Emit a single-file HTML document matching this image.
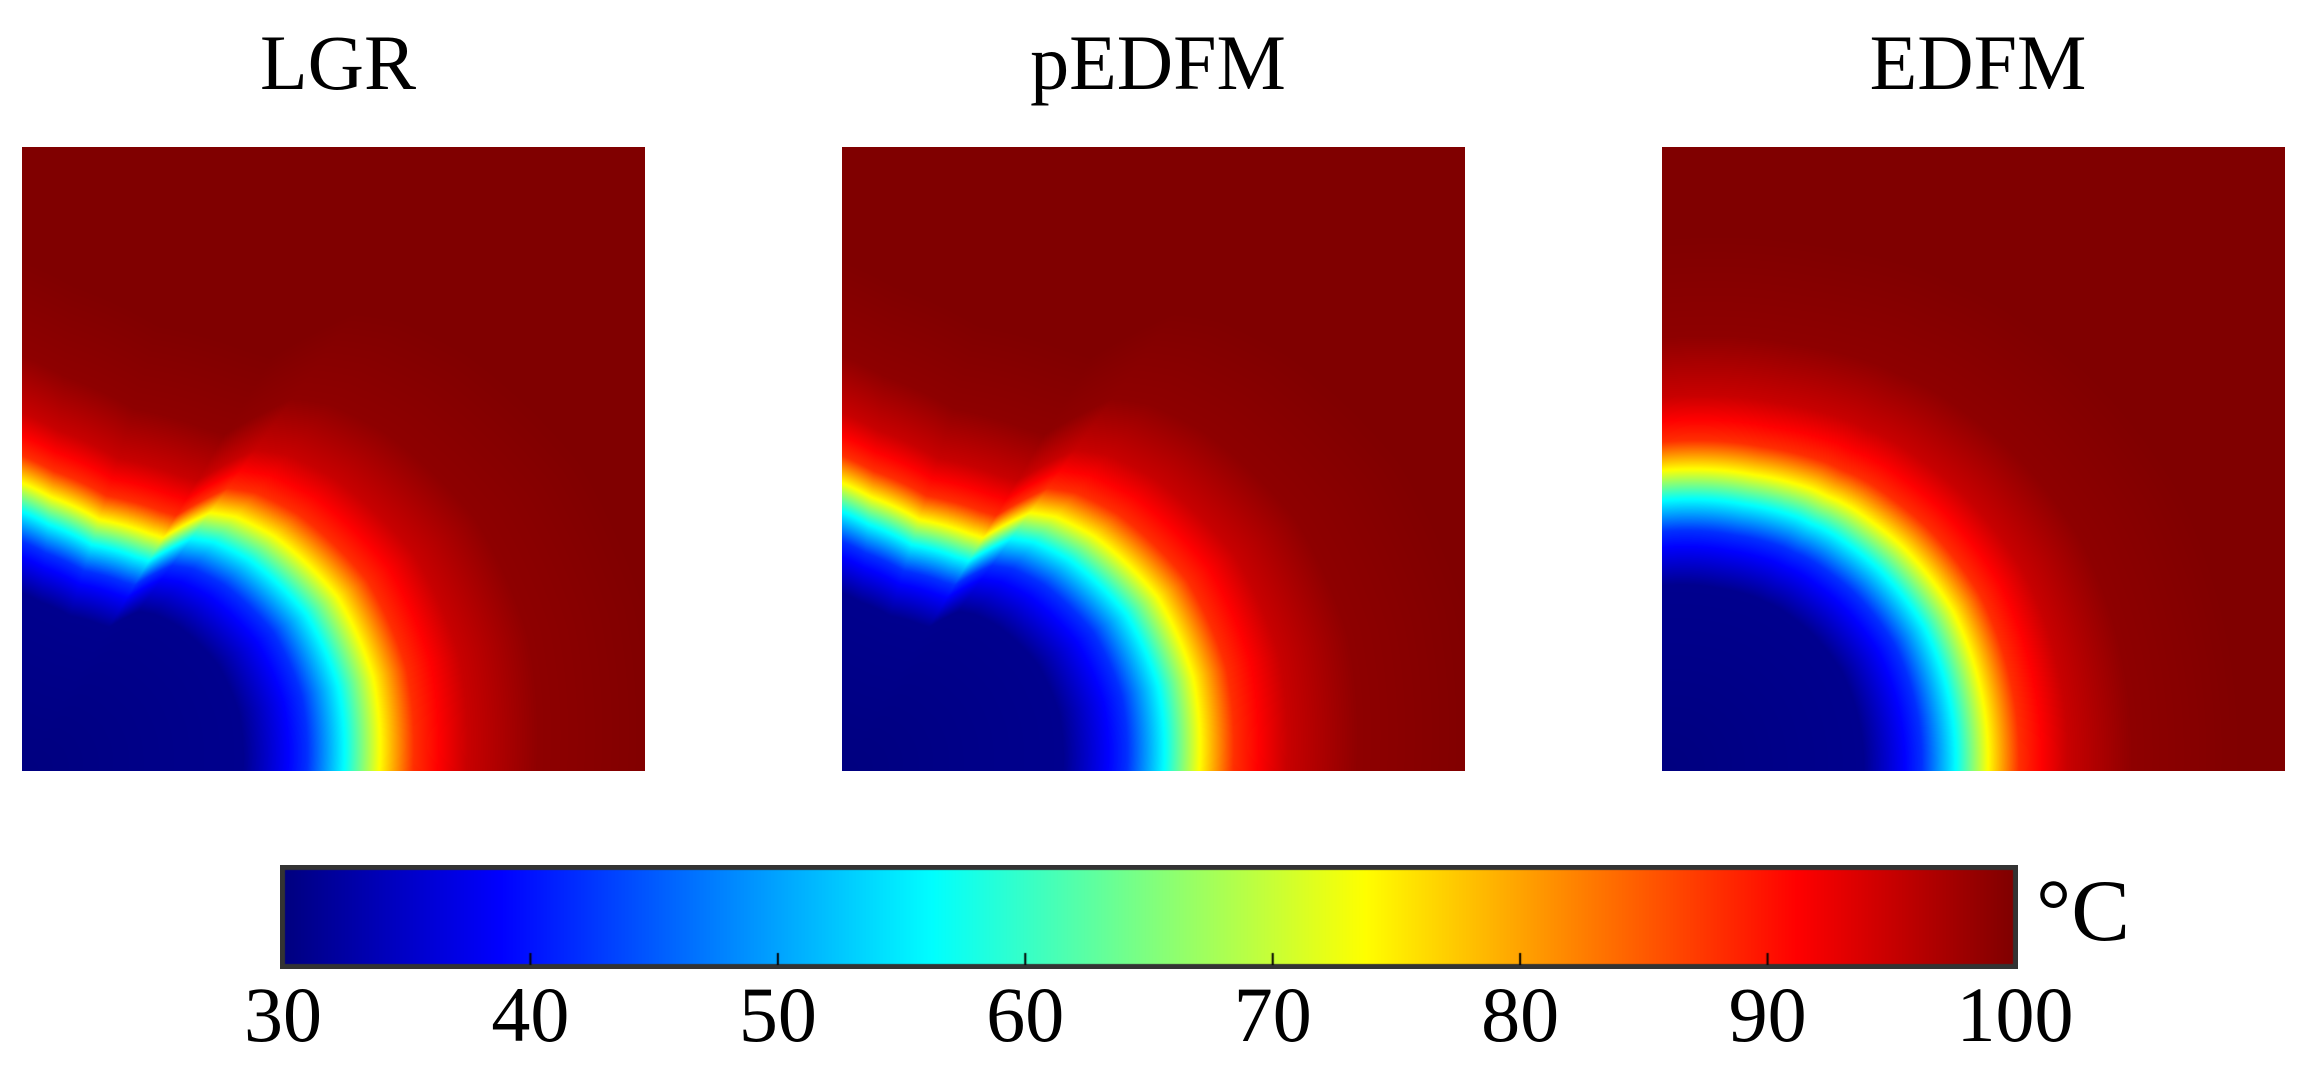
<!DOCTYPE html>
<html><head><meta charset="utf-8"><style>
html,body{margin:0;padding:0;background:#fff;}
body{width:2307px;height:1065px;position:relative;overflow:hidden;font-family:"Liberation Serif",serif;}
.t{position:absolute;color:#000;white-space:nowrap;}
.title{font-size:78px;top:18px;line-height:1.15;transform:translateX(-50%);}
canvas{position:absolute;}
.tick{font-size:78px;top:970px;transform:translateX(-50%);}
</style></head><body>
<div class="t title" style="left:338px">LGR</div>
<div class="t title" style="left:1158px">pEDFM</div>
<div class="t title" style="left:1978px">EDFM</div>
<canvas id="p0" width="623" height="624" style="left:22px;top:147px"></canvas>
<canvas id="p1" width="623" height="624" style="left:842px;top:147px"></canvas>
<canvas id="p2" width="623" height="624" style="left:1662px;top:147px"></canvas>
<canvas id="cb" width="1738" height="104" style="left:280px;top:865px"></canvas>
<div class="t" style="left:2036px;top:868px;font-size:88px;line-height:1">°C</div>
<div id="ticks"></div>
<script>
// front radius (fraction of panel width) vs angle from bottom edge (deg)
const angles = [0, 15, 29, 43, 50, 54, 57, 59, 62, 73, 84, 90];
const frontLGR = [0.57, 0.58, 0.575, 0.55, 0.53, 0.51, 0.465, 0.435, 0.43, 0.42, 0.44, 0.46];
const frontPEDFM = [0.57, 0.58, 0.575, 0.55, 0.53, 0.51, 0.465, 0.435, 0.43, 0.42, 0.44, 0.46];
const frontEDFM = [0.52, 0.525, 0.53, 0.525, 0.52, 0.518, 0.515, 0.512, 0.51, 0.495, 0.485, 0.48];
// temperature profile vs normalized distance r/R
const profS = [0, 0.62, 0.8, 0.91, 1.0, 1.1, 1.25, 1.45, 1.8, 3];
const profT = [30, 31, 42, 57, 73, 88, 95, 99, 100, 100];
const tickValues = [30, 40, 50, 60, 70, 80, 90, 100];
const tMin = 30, tMax = 100;

function interp(xs, ys, x) {
  if (x <= xs[0]) return ys[0];
  for (let i = 1; i < xs.length; i++) {
    if (x <= xs[i]) { const f = (x - xs[i-1]) / (xs[i] - xs[i-1]); return ys[i-1] + f * (ys[i] - ys[i-1]); }
  }
  return ys[ys.length - 1];
}
function jet(v) {
  const c = x => Math.max(0, Math.min(1, x));
  return [c(1.5 - Math.abs(4*v - 3)), c(1.5 - Math.abs(4*v - 2)), c(1.5 - Math.abs(4*v - 1))];
}
function colorOf(T) { return jet((T - tMin) / (tMax - tMin)); }

function drawPanel(id, front) {
  const cv = document.getElementById(id), ctx = cv.getContext('2d');
  const W = cv.width, H = cv.height, img = ctx.createImageData(W, H);
  for (let y = 0; y < H; y++) for (let x = 0; x < W; x++) {
    const px = x / W, py = (H - y) / H;
    const r = Math.hypot(px, py);
    const th = Math.atan2(py, px) * 180 / Math.PI;
    const R = interp(angles, front, th);
    const T = interp(profS, profT, r / R);
    const c = colorOf(T), k = (y * W + x) * 4;
    img.data[k] = c[0]*255; img.data[k+1] = c[1]*255; img.data[k+2] = c[2]*255; img.data[k+3] = 255;
  }
  ctx.putImageData(img, 0, 0);
}
drawPanel('p0', frontLGR);
drawPanel('p1', frontPEDFM);
drawPanel('p2', frontEDFM);

const cb = document.getElementById('cb'), cx = cb.getContext('2d');
const bx = 3, bw = cb.width - 6, by = 4, bh = cb.height - 8;
for (let i = 0; i < bw; i++) {
  const c = jet(i / (bw - 1));
  cx.fillStyle = `rgb(${c[0]*255|0},${c[1]*255|0},${c[2]*255|0})`;
  cx.fillRect(bx + i, by, 1, bh);
}
cx.strokeStyle = '#333'; cx.lineWidth = 5; cx.strokeRect(2.5, 2.5, cb.width - 5, cb.height - 5);
cx.strokeStyle = '#000'; cx.lineWidth = 2;
const ticks = document.getElementById('ticks');
tickValues.forEach(v => {
  const xx = bx + (v - tMin) / (tMax - tMin) * bw;
  if (v > tMin && v < tMax) { cx.beginPath(); cx.moveTo(xx, cb.height - 4); cx.lineTo(xx, cb.height - 16); cx.stroke(); }
  const d = document.createElement('div');
  
  
  d.className = 't tick';
  d.style.left = (280 + xx) + 'px';
  d.textContent = v;
  ticks.appendChild(d);
});
</script>
</body></html>
